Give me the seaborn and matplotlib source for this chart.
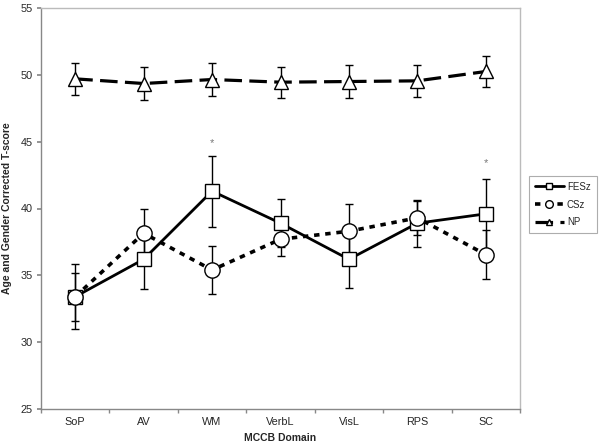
import pandas as pd
import seaborn as sns
import matplotlib.pyplot as plt
import numpy as np

domains = ["SoP", "AV", "WM", "VerbL", "VisL", "RPS", "SC"]
groups = ["FESz", "CSz", "NP"]

fesz_mean = [33.4, 36.2, 41.3, 38.9, 36.2, 38.9, 39.6]
fesz_err = [2.45, 2.25, 2.65, 1.8, 2.15, 1.75, 2.6]
csz_mean = [33.4, 38.15, 35.4, 37.7, 38.3, 39.3, 36.55]
csz_err = [1.8, 1.85, 1.8, 1.25, 2.05, 1.25, 1.85]
np_mean = [49.7, 49.35, 49.65, 49.45, 49.5, 49.55, 50.25]
np_err = [1.2, 1.2, 1.2, 1.15, 1.2, 1.2, 1.15]

star_domains = ["WM", "SC"]
star_values = [44.9, 43.4]

means = {"FESz": fesz_mean, "CSz": csz_mean, "NP": np_mean}
errs = {"FESz": fesz_err, "CSz": csz_err, "NP": np_err}

rows = []
for g in groups:
    for d, m, e in zip(domains, means[g], errs[g]):
        rows.append({"Domain": d, "Group": g, "Score": m, "Err": e})
df = pd.DataFrame(rows)
df["x"] = df["Domain"].map({d: i for i, d in enumerate(domains)})

sns.set_theme(style="white")
plt.rcParams["font.family"] = ["Liberation Sans", "DejaVu Sans"]

styles = {
    "FESz": dict(dashes=(None, None), marker="s", ms=10, lw=2.0),
    "CSz": dict(dashes=(1.5, 1.6), marker="o", ms=11, lw=2.6),
    "NP": dict(dashes=(5.5, 2.3), marker="^", ms=10, lw=2.3),
}

fig = plt.figure(figsize=(6.03, 4.47), dpi=100)
ax = fig.add_axes([41 / 603, 1 - 409 / 447, 479 / 603, 401 / 447])

for g in groups:
    sub = df[df["Group"] == g]
    ax.errorbar(sub["x"], sub["Score"], yerr=sub["Err"], fmt="none",
                ecolor="black", elinewidth=1.0, capsize=3, capthick=1.0,
                zorder=2)
    st = styles[g]
    sns.lineplot(data=sub, x="x", y="Score", ax=ax, color="black",
                 linewidth=st["lw"], marker=st["marker"],
                 markersize=st["ms"], markerfacecolor="white",
                 markeredgecolor="black", markeredgewidth=1.0,
                 label=g, zorder=3)
    ln = ax.lines[-1]
    if st["dashes"][0] is not None:
        ln.set_dashes(st["dashes"])
        ln.set_dash_capstyle("butt")

for d, v in zip(star_domains, star_values):
    ax.text(domains.index(d), v, "*", ha="center", va="center",
            fontsize=8, color="#777777")

ax.set_xlim(-0.5, len(domains) - 0.5)
ax.set_ylim(25, 55)
ax.set_yticks(np.arange(25, 56, 5))
ax.set_xticks(range(len(domains)))
ax.set_xticklabels(domains)
ax.set_xticks(np.arange(-0.5, len(domains), 1), minor=True)
ax.tick_params(axis="x", which="major", length=0, labelsize=7.8, pad=6)
ax.tick_params(axis="x", which="minor", length=3, color="#888888",
               direction="out", bottom=True)
ax.tick_params(axis="y", length=3, color="#888888", direction="out",
               left=True, labelsize=7.8, pad=3)
for s in ["left", "bottom"]:
    ax.spines[s].set_color("#888888")
    ax.spines[s].set_linewidth(1.0)
for s in ["top", "right"]:
    ax.spines[s].set_color("#bbbbbb")
    ax.spines[s].set_linewidth(1.0)

ax.set_xlabel("MCCB Domain", fontsize=7.5, fontweight="bold", labelpad=4)
ax.set_ylabel("Age and Gender Corrected T-score", fontsize=7.5,
              fontweight="bold", labelpad=6)

leg = ax.legend(loc="upper left", bbox_to_anchor=(529 / 603, 1 - 176 / 447),
                bbox_transform=fig.transFigure, frameon=True, fancybox=False,
                fontsize=7, handlelength=3.0, markerscale=0.5,
                borderpad=0.6, labelspacing=0.8, handletextpad=0.3,
                borderaxespad=0)
leg.get_frame().set_edgecolor("#999999")
leg.get_frame().set_linewidth(0.8)

fig.savefig("out.png", dpi=100)
